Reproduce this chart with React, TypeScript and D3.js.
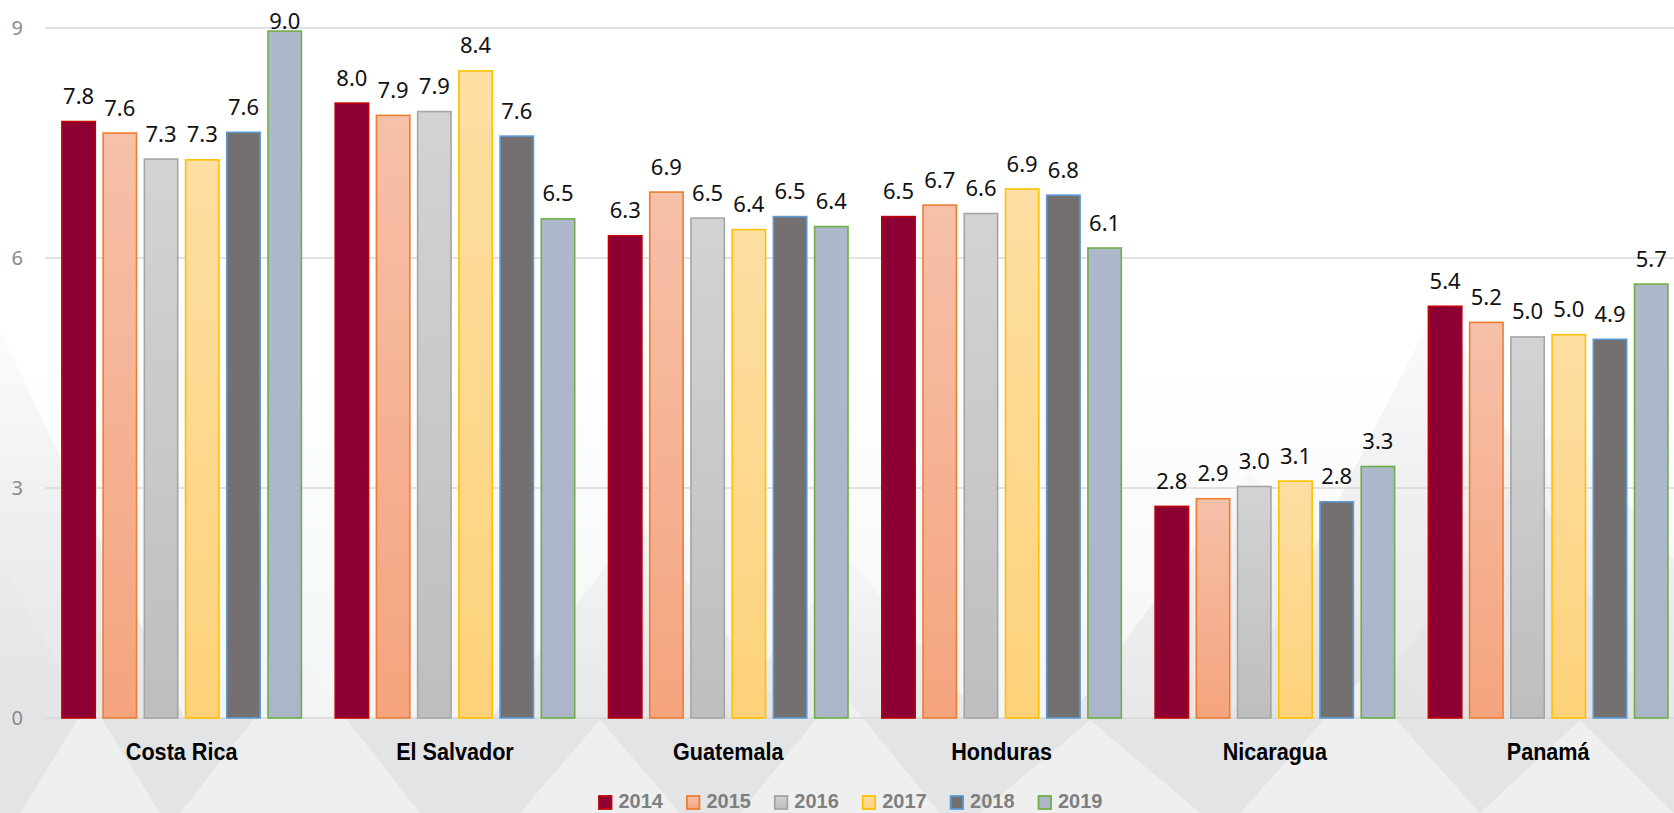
import React from "react";
import * as d3 from "d3";

const countries = ["Costa Rica", "El Salvador", "Guatemala", "Honduras", "Nicaragua", "Panamá"];
const years = ["2014", "2015", "2016", "2017", "2018", "2019"];
const v2014 = [7.78, 8.02, 6.29, 6.54, 2.76, 5.37];
const v2015 = [7.63, 7.86, 6.86, 6.69, 2.86, 5.16];
const v2016 = [7.29, 7.91, 6.52, 6.58, 3.02, 4.97];
const v2017 = [7.28, 8.44, 6.37, 6.9, 3.09, 5.0];
const v2018 = [7.64, 7.59, 6.54, 6.82, 2.82, 4.94];
const v2019 = [8.96, 6.51, 6.41, 6.13, 3.28, 5.66];
const seriesValues = [v2014, v2015, v2016, v2017, v2018, v2019];
const yTicks = [0, 3, 6, 9];

const W = 1674;
const H = 813;

const styles = [
  { top: "#8c0033", bottom: "#8c0033", stroke: "#c00000" },
  { top: "#f6c0a9", bottom: "#f5a47e", stroke: "#ed7d31" },
  { top: "#d3d3d3", bottom: "#bebebe", stroke: "#a5a5a5" },
  { top: "#fddea3", bottom: "#fdd27a", stroke: "#ffc000" },
  { top: "#747070", bottom: "#747070", stroke: "#5b9bd5" },
  { top: "#adb8ca", bottom: "#abb6c8", stroke: "#70ad47" },
];

// decorative background triangles
const bgDark: number[][][] = [
  [[0, 330], [230, 813], [0, 813]],
  [[0, 560], [140, 813], [0, 813]],
  [[420, 813], [640, 520], [860, 813]],
  [[640, 813], [850, 560], [1060, 813]],
  [[1000, 813], [1250, 470], [1500, 813]],
  [[1180, 813], [1440, 300], [1674, 760], [1674, 813]],
  [[1300, 813], [1560, 420], [1674, 560], [1674, 813]],
];
const bgLight: number[][][] = [
  [[20, 813], [90, 700], [160, 813]],
  [[180, 813], [300, 660], [420, 813]],
  [[520, 813], [600, 720], [680, 813]],
  [[740, 813], [840, 690], [940, 813]],
  [[980, 813], [1090, 720], [1200, 813]],
  [[1240, 813], [1360, 680], [1480, 813]],
  [[1480, 813], [1580, 720], [1674, 813]],
];

export default function App() {
  const x0 = d3.scaleBand<string>().domain(countries).range([45, 45 + 6 * 273.3]).padding(0);
  const x1 = d3
    .scaleBand<string>()
    .domain(years)
    .range([0, x0.bandwidth()])
    .paddingInner(0.19)
    .paddingOuter(0.41);
  const y = d3.scaleLinear().domain([0, 9]).range([718, 28]);

  return (
    <svg
      width={W}
      height={H}
      style={{ position: "absolute", left: 0, top: 0, display: "block" }}
    >
      <defs>
        {styles.map((s, i) => (
          <linearGradient key={i} id={`g${i}`} x1="0" y1="0" x2="0" y2="1">
            <stop offset="0" stopColor={s.top} />
            <stop offset="1" stopColor={s.bottom} />
          </linearGradient>
        ))}
        <linearGradient id="bgGrad" x1="0" y1="0" x2="0" y2="1">
          <stop offset="0" stopColor="#ffffff" />
          <stop offset="0.45" stopColor="#ffffff" />
          <stop offset="1" stopColor="#f1f2f3" />
        </linearGradient>
        <linearGradient id="triGrad" x1="0" y1="0" x2="0" y2="1">
          <stop offset="0" stopColor="#e4e5e7" stopOpacity="0.2" />
          <stop offset="0.5" stopColor="#e2e3e5" stopOpacity="0.8" />
          <stop offset="1" stopColor="#dfe0e2" stopOpacity="1" />
        </linearGradient>
      </defs>

      {/* background */}
      <rect x={0} y={0} width={W} height={H} fill="url(#bgGrad)" />
      {bgDark.map((p, i) => (
        <polygon key={`d${i}`} points={p.map((q) => q.join(",")).join(" ")} fill="url(#triGrad)" opacity={0.75} />
      ))}
      <rect x={0} y={y(0)} width={W} height={H - y(0)} fill="#e3e4e6" />
      {bgLight.map((p, i) => (
        <polygon key={`l${i}`} points={p.map((q) => q.join(",")).join(" ")} fill="#f3f3f4" opacity={0.7} />
      ))}

      {/* gridlines */}
      {yTicks.map((t) => (
        <g key={t}>
          <line x1={45} x2={W} y1={y(t)} y2={y(t)} stroke="#d9d9d9" strokeWidth={1.5} />
          <text
            x={23}
            y={y(t) + 7}
            textAnchor="end"
            fontFamily="'Noto Sans', sans-serif"
            fontSize={20}
            fill="#8a8a8a"
          >
            {t}
          </text>
        </g>
      ))}

      {/* bars */}
      {countries.map((c, ci) => (
        <g key={c} transform={`translate(${x0(c)},0)`}>
          {years.map((yr, si) => {
            const v = seriesValues[si][ci];
            const bx = x1(yr)!;
            const bw = x1.bandwidth();
            const top = y(v);
            return (
              <rect
                key={yr}
                x={bx}
                y={top}
                width={bw}
                height={y(0) - top}
                fill={`url(#g${si})`}
                stroke={styles[si].stroke}
                strokeWidth={1.6}
              />
            );
          })}
        </g>
      ))}

      {/* data labels */}
      {countries.map((c, ci) => (
        <g key={`lab${c}`} transform={`translate(${x0(c)},0)`}>
          {years.map((yr, si) => {
            const v = seriesValues[si][ci];
            const cx = x1(yr)! + x1.bandwidth() / 2;
            const by = Math.max(y(v) - 17.5, 28.5);
            return (
              <text
                key={yr}
                x={cx}
                y={by}
                textAnchor="middle"
                fontFamily="'Noto Sans', sans-serif"
                fontSize={22}
                fill="#111"
              >
                {v.toFixed(1)}
              </text>
            );
          })}
        </g>
      ))}

      {/* category labels */}
      {countries.map((c) => (
        <text
          key={`cat${c}`}
          transform={`translate(${x0(c)! + x0.bandwidth() / 2},760) scale(0.9,1)`}
          textAnchor="middle"
          fontFamily="'Liberation Sans', Arial, sans-serif"
          fontWeight="bold"
          fontSize={24}
          fill="#000"
        >
          {c}
        </text>
      ))}

      {/* legend */}
      {years.map((yr, i) => {
        const lx = 599 + i * 87.9;
        return (
          <g key={`leg${yr}`}>
            <rect
              x={lx}
              y={796}
              width={12.5}
              height={13}
              fill={`url(#g${i})`}
              stroke={styles[i].stroke}
              strokeWidth={1.8}
            />
            <text
              x={lx + 19.5}
              y={808}
              fontFamily="'Liberation Sans', Arial, sans-serif"
              fontWeight="bold"
              fontSize={20}
              fill="#7f7f7f"
            >
              {yr}
            </text>
          </g>
        );
      })}
    </svg>
  );
}
